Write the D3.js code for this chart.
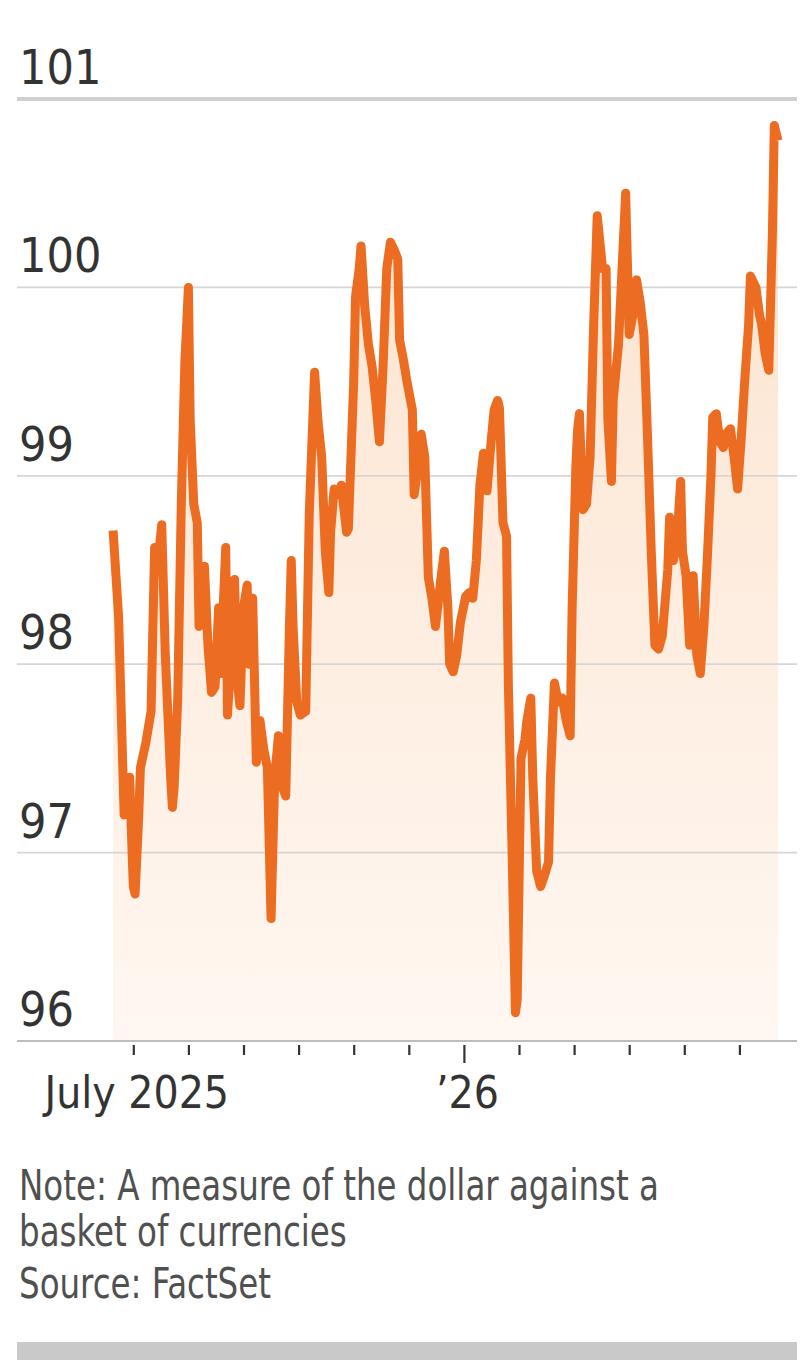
<!DOCTYPE html>
<html><head><meta charset="utf-8">
<script src="https://cdn.jsdelivr.net/npm/d3@7"></script>
<style>
html,body{margin:0;padding:0;background:#fff;}
svg{display:block;}
</style></head>
<body>
<svg id="chart" width="801" height="1360"></svg>
<script>
// ---- data ----
const dates = [
"2025-06-20","2025-06-23","2025-06-24","2025-06-26","2025-06-29","2025-06-30",
"2025-07-01","2025-07-02","2025-07-04","2025-07-05","2025-07-08","2025-07-11","2025-07-13","2025-07-15","2025-07-17","2025-07-19","2025-07-22","2025-07-23","2025-07-24","2025-07-26","2025-07-28","2025-07-30",
"2025-08-01","2025-08-02","2025-08-04","2025-08-06","2025-08-07","2025-08-09","2025-08-10","2025-08-12","2025-08-14","2025-08-16","2025-08-18","2025-08-19","2025-08-22","2025-08-23","2025-08-25","2025-08-27","2025-08-28","2025-08-30",
"2025-09-01","2025-09-03","2025-09-04","2025-09-06","2025-09-08","2025-09-10","2025-09-12","2025-09-14","2025-09-16","2025-09-18","2025-09-20","2025-09-22","2025-09-24","2025-09-26","2025-09-27","2025-09-28","2025-09-30",
"2025-10-02","2025-10-05","2025-10-07","2025-10-09","2025-10-10","2025-10-12","2025-10-14","2025-10-16","2025-10-18","2025-10-19","2025-10-21","2025-10-24","2025-10-25","2025-10-28","2025-10-29",
"2025-11-01","2025-11-02","2025-11-04","2025-11-05","2025-11-07","2025-11-09","2025-11-11","2025-11-13","2025-11-15","2025-11-17","2025-11-19","2025-11-21","2025-11-23","2025-11-25","2025-11-26","2025-11-28","2025-11-30",
"2025-12-03","2025-12-04","2025-12-07","2025-12-08","2025-12-10","2025-12-12","2025-12-14","2025-12-16","2025-12-19","2025-12-21","2025-12-23","2025-12-24","2025-12-26","2025-12-28","2025-12-30",
"2026-01-02","2026-01-04","2026-01-06","2026-01-08","2026-01-10","2026-01-12","2026-01-14","2026-01-16","2026-01-18","2026-01-20","2026-01-21","2026-01-23","2026-01-25","2026-01-26","2026-01-28","2026-01-30","2026-01-31",
"2026-02-02","2026-02-04","2026-02-05","2026-02-07","2026-02-08","2026-02-10","2026-02-12","2026-02-14","2026-02-16","2026-02-17","2026-02-19","2026-02-21","2026-02-23","2026-02-25","2026-02-27","2026-02-28",
"2026-03-02","2026-03-03","2026-03-04","2026-03-06","2026-03-08","2026-03-10","2026-03-12","2026-03-14","2026-03-17","2026-03-19","2026-03-20","2026-03-22","2026-03-23","2026-03-26","2026-03-28","2026-03-30",
"2026-04-01","2026-04-03","2026-04-05","2026-04-07","2026-04-09","2026-04-11","2026-04-13","2026-04-15","2026-04-17","2026-04-19","2026-04-22","2026-04-23","2026-04-25","2026-04-27","2026-04-29","2026-04-30",
"2026-05-02","2026-05-04","2026-05-06","2026-05-08","2026-05-10","2026-05-12","2026-05-14","2026-05-16","2026-05-17","2026-05-19","2026-05-21","2026-05-23","2026-05-25","2026-05-27","2026-05-29","2026-05-31",
"2026-06-02","2026-06-04","2026-06-06","2026-06-07","2026-06-10","2026-06-12","2026-06-13","2026-06-15","2026-06-17","2026-06-19","2026-06-20","2026-06-22"
];
const values = [
98.71,98.25,97.90,97.20,97.40,97.10,
96.82,96.78,97.18,97.45,97.58,97.75,98.62,98.56,98.74,98.05,97.40,97.24,97.35,97.82,98.85,99.60,
100.00,99.30,98.85,98.75,98.20,98.45,98.52,98.10,97.85,97.88,98.30,97.95,98.62,97.73,98.05,98.45,97.95,97.78,
98.30,98.42,98.00,98.35,97.48,97.70,97.55,97.45,96.65,97.40,97.62,97.35,97.30,98.20,98.55,98.20,97.80,
97.73,97.75,98.80,99.30,99.55,99.28,99.10,98.60,98.38,98.70,98.93,98.90,98.95,98.70,98.72,
99.50,99.95,100.10,100.22,99.90,99.70,99.58,99.40,99.18,99.58,100.10,100.24,100.20,100.15,99.72,99.62,99.50,
99.35,98.90,99.10,99.22,99.10,98.46,98.35,98.20,98.45,98.60,98.30,98.00,97.96,98.05,98.22,
98.36,98.38,98.35,98.55,98.95,99.12,98.92,99.15,99.35,99.40,99.36,98.75,98.68,97.90,97.05,96.15,96.22,
97.50,97.60,97.70,97.82,97.40,96.90,96.82,96.88,96.95,97.40,97.90,97.80,97.82,97.70,97.62,98.30,
99.05,99.25,99.33,98.82,98.85,99.10,99.80,100.38,100.10,100.10,99.30,98.97,99.40,99.70,100.10,100.50,
99.75,99.85,100.04,99.92,99.75,99.20,98.60,98.10,98.08,98.15,98.50,98.78,98.55,98.65,98.97,98.60,
98.47,98.10,98.47,98.05,97.95,98.20,98.57,99.00,99.31,99.33,99.18,99.15,99.23,99.25,99.10,98.93,
99.20,99.52,99.80,100.06,100.00,99.85,99.81,99.65,99.56,100.30,100.86,100.78
];
const yTicks = [96, 97, 98, 99, 100, 101];
const monthTicks = ["2025-07-01","2025-08-01","2025-09-01","2025-10-01","2025-11-01","2025-12-01",
                    "2026-01-01","2026-02-01","2026-03-01","2026-04-01","2026-05-01","2026-06-01"];
const tickLabels = {"2025-07-01": "July 2025", "2026-01-01": "\u201926"};
const noteLines = ["Note: A measure of the dollar against a", "basket of currencies"];
const sourceText = "Source: FactSet";

// ---- layout ----
const parse = d3.utcParse("%Y-%m-%d");
const svg = d3.select("#chart");
const gridLeft = 17, gridRight = 797;
const firstTickX = 133.3, monthStep = 55.1;
const yTop = 99, yBottom = 1041;

const data = dates.map((d, i) => ({date: parse(d), value: values[i]}));

// piecewise time scale: each month gets equal width, as in the original
const monthDomain = [parse("2025-06-01"), ...monthTicks.map(parse), parse("2026-07-01")];
const x = d3.scaleUtc()
  .domain(monthDomain)
  .range(monthDomain.map((d, i) => firstTickX + (i - 1) * monthStep));
const y = d3.scaleLinear().domain([96, 101]).range([yBottom, yTop]);

const font = "'DejaVu Sans Condensed','DejaVu Sans',sans-serif";

// gradient
const defs = svg.append("defs");
const grad = defs.append("linearGradient").attr("id", "fillGrad")
  .attr("gradientUnits", "userSpaceOnUse")
  .attr("x1", 0).attr("x2", 0).attr("y1", y(101)).attr("y2", y(96));
grad.append("stop").attr("offset", 0).attr("stop-color", "#fce2cc");
grad.append("stop").attr("offset", 1).attr("stop-color", "#fff7f1");

// area
svg.append("path").datum(data)
  .attr("fill", "url(#fillGrad)")
  .attr("d", d3.area().x(d => x(d.date)).y0(y(96)).y1(d => y(d.value)));

// gridlines
svg.append("g").selectAll("line").data(yTicks.filter(t => t > 96)).join("line")
  .attr("x1", gridLeft).attr("x2", gridRight)
  .attr("y1", d => y(d)).attr("y2", d => y(d))
  .attr("stroke", d => d === 101 ? "#cfcfcf" : "#d6d6d6")
  .attr("stroke-width", d => d === 101 ? 4 : 1.8);

// y labels
svg.append("g").selectAll("text").data(yTicks).join("text")
  .attr("x", 19).attr("y", d => y(d) - 15)
  .attr("font-family", font).attr("font-size", 48)
  .attr("fill", "#333")
  .text(d => d);

// line
svg.append("path").datum(data)
  .attr("fill", "none")
  .attr("stroke", "#ec6c22")
  .attr("stroke-width", 9)
  .attr("stroke-linejoin", "round")
  .attr("d", d3.line().x(d => x(d.date)).y(d => y(d.value)));

// x axis
const isMonth = m => d => d3.utcFormat("%m")(d) === m;
const xAxis = d3.axisBottom(x)
  .tickValues(monthTicks.map(parse))
  .tickSize(11).tickPadding(12)
  .tickFormat(d => tickLabels[d3.utcFormat("%Y-%m-%d")(d)] || "");
const ax = svg.append("g").attr("transform", `translate(0,${yBottom + 1})`).call(xAxis);
ax.select(".domain").remove();
ax.selectAll(".tick line").attr("stroke", "#333").attr("stroke-width", 2.2)
  .attr("y1", 3)
  .attr("y2", d => isMonth("01")(d) ? 21 : 13);
ax.selectAll(".tick text")
  .attr("font-family", font).attr("font-size", 44).attr("fill", "#333")
  .attr("y", 35).attr("dy", "0.71em").attr("dx", 3);

// baseline
svg.append("line")
  .attr("x1", gridLeft).attr("x2", gridRight)
  .attr("y1", y(96)).attr("y2", y(96))
  .attr("stroke", "#bdbdbd").attr("stroke-width", 2);

// notes
const notes = svg.append("g")
  .attr("transform", "translate(19,0) scale(0.86,1)")
  .attr("font-family", font).attr("font-size", 42).attr("fill", "#505050");
noteLines.forEach((t, i) => notes.append("text").attr("x", 0).attr("y", 1200 + i * 46).text(t));
notes.append("text").attr("x", 0).attr("y", 1298).text(sourceText);

// bottom bar
svg.append("rect").attr("x", gridLeft).attr("y", 1342).attr("width", gridRight - gridLeft).attr("height", 18)
  .attr("fill", "#c9c9c9");
</script>
</body></html>
